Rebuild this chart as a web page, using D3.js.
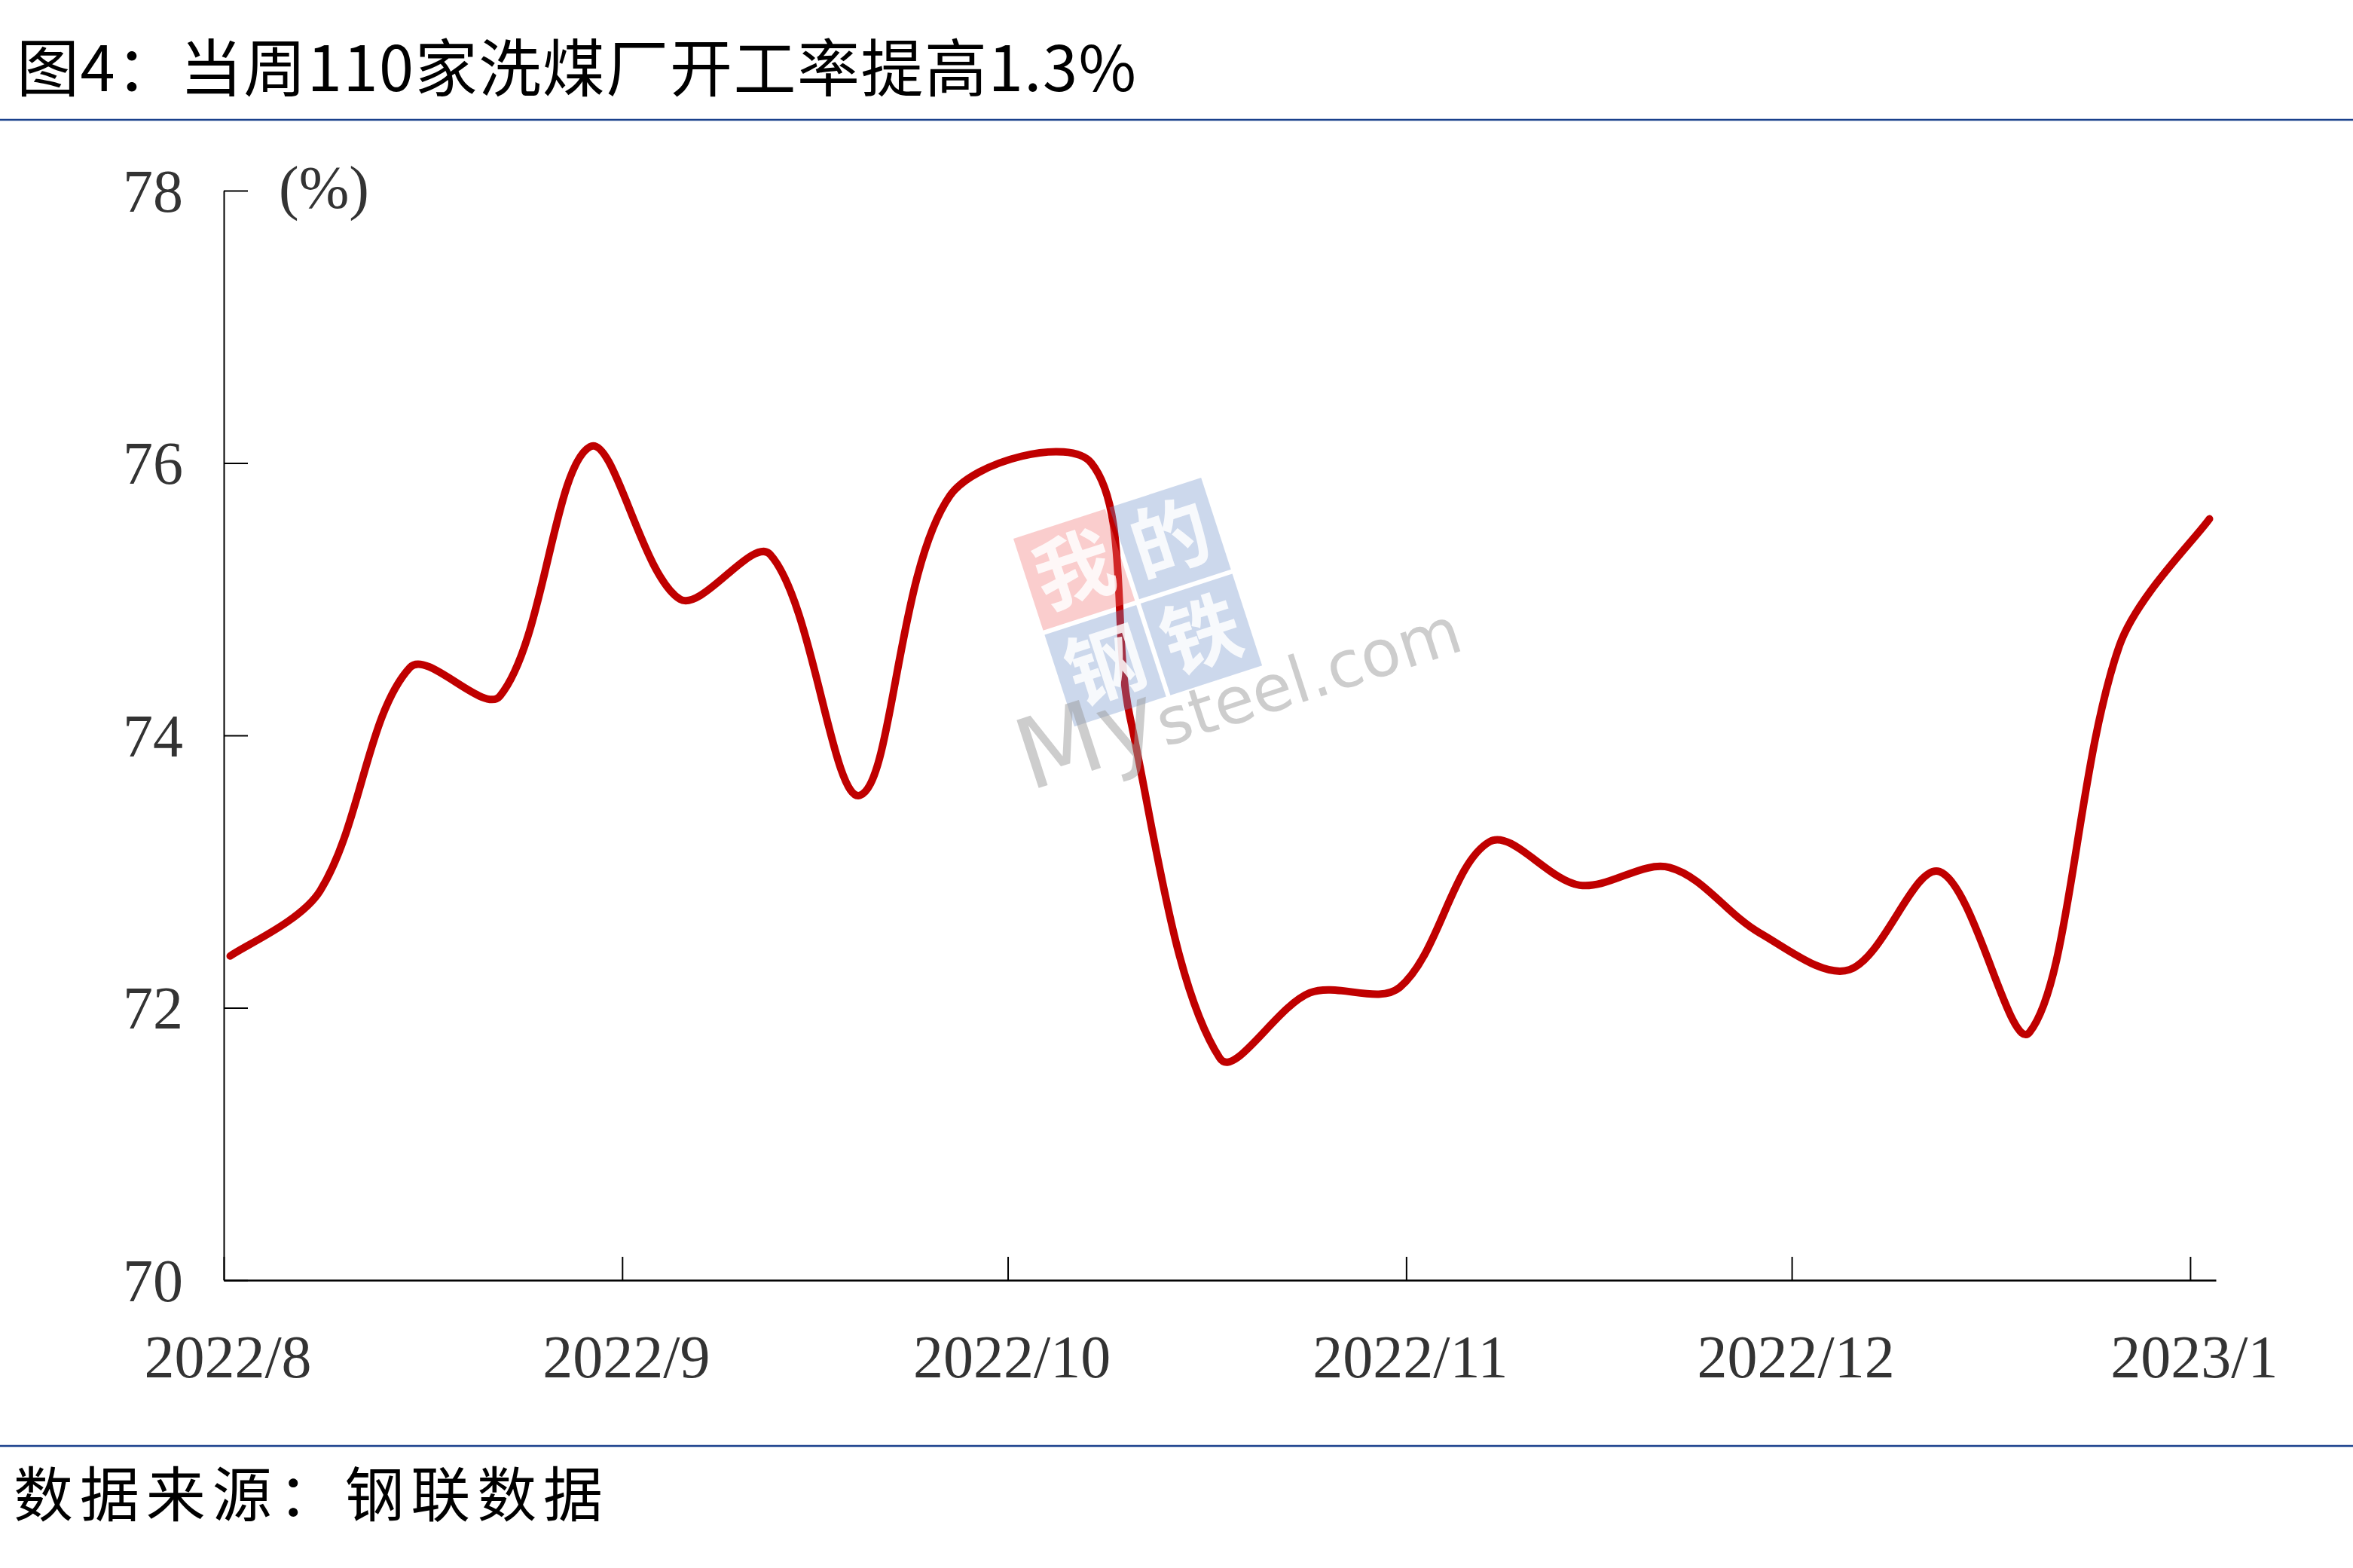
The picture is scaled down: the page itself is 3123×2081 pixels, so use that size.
<!DOCTYPE html>
<html>
<head>
<meta charset="utf-8">
<script src="https://cdn.jsdelivr.net/npm/d3@7"></script>
<style>
body{margin:0;background:#fff;}
</style>
</head>
<body>
<div id="chart-area"></div>
<script>
// weekly operating rate of 110 coal washing plants (%)
var dates=["2022-08-01","2022-08-08","2022-08-15","2022-08-22","2022-08-29",
	"2022-09-05","2022-09-12","2022-09-19","2022-09-26","2022-10-07",
	"2022-10-10","2022-10-17","2022-10-24","2022-10-31","2022-11-07",
	"2022-11-14","2022-11-21","2022-11-28","2022-12-05","2022-12-12",
	"2022-12-19","2022-12-26","2023-01-02"];
var rates=[72.38,72.86,74.50,74.29,76.12,
	75.00,75.33,73.56,75.76,76.00,
	74.14,71.63,72.11,72.15,73.22,
	72.90,73.03,72.55,72.28,73.00,
	71.82,74.66,75.59];
var yTicks=[70,72,74,76,78];
var monthTicks=["2022-08-01","2022-09-01","2022-10-01","2022-11-01","2022-12-01","2023-01-01"];
var titleText="图4：当周110家洗煤厂开工率提高1.3%";
var sourceText="数据来源：钢联数据";
var unitText="(%)";
var wmChars=["我","的","钢","铁"];

var W=3123, H=2081;
var cjk="'Noto Sans CJK SC', sans-serif";
var serif="'Times New Roman', 'Liberation Serif', serif";

// spreadsheet-style smoothing: tangent from the two neighbours,
// handle lengths split by the length of the adjacent chords
function SmoothCurve(context){ this._context=context; }
SmoothCurve.prototype={
	areaStart:function(){ this._line=0; },
	areaEnd:function(){ this._line=NaN; },
	lineStart:function(){ this._x=[]; this._y=[]; },
	point:function(x,y){ this._x.push(+x); this._y.push(+y); },
	lineEnd:function(){
		var xs=this._x, ys=this._y, n=xs.length, c=this._context;
		if(!n) return;
		c.moveTo(xs[0],ys[0]);
		if(n<3){ if(n==2) c.lineTo(xs[1],ys[1]); return; }
		var ox=[],oy=[],ix=[],iy=[];
		for(var i=0;i<n;i++){
			var a=Math.max(i-1,0), b=Math.min(i+1,n-1);
			var tx=xs[b]-xs[a], ty=ys[b]-ys[a];
			if(i==0||i==n-1){
				ox[i]=xs[i]+tx/6; oy[i]=ys[i]+ty/6;
				ix[i]=xs[i]-tx/6; iy[i]=ys[i]-ty/6;
				continue;
			}
			var dl=Math.hypot(xs[i]-xs[i-1],ys[i]-ys[i-1]);
			var dr=Math.hypot(xs[i+1]-xs[i],ys[i+1]-ys[i]);
			var fl=dl/(dl+dr)/3, fr=dr/(dl+dr)/3;
			ox[i]=xs[i]+tx*fr; oy[i]=ys[i]+ty*fr;
			ix[i]=xs[i]-tx*fl; iy[i]=ys[i]-ty*fl;
		}
		for(var j=0;j<n-1;j++){
			c.bezierCurveTo(ox[j],oy[j],ix[j+1],iy[j+1],xs[j+1],ys[j+1]);
		}
	}
};
function curveSmooth(context){ return new SmoothCurve(context); }

var parse=d3.timeParse("%Y-%m-%d");
var data=dates.map((d,i)=>{return {date:parse(d),rate:rates[i]};});

var svg=d3.select("#chart-area").append("svg")
	.attr("width",W)
	.attr("height",H);

svg.append("rect")
	.attr("width",W)
	.attr("height",H)
	.attr("fill","#fff");

// title + rules
svg.append("text")
	.attr("x",22)
	.attr("y",121)
	.attr("font-family",cjk)
	.attr("font-size",83)
	.attr("fill","#000")
	.attr("textLength",1486)
	.attr("lengthAdjust","spacing")
	.text(titleText);

svg.append("line")
	.attr("x1",0).attr("x2",W)
	.attr("y1",159).attr("y2",159)
	.attr("stroke","#1a408c")
	.attr("stroke-width",2.5);

svg.append("line")
	.attr("x1",0).attr("x2",W)
	.attr("y1",1919).attr("y2",1919)
	.attr("stroke","#1a408c")
	.attr("stroke-width",2.5);

svg.append("text")
	.attr("x",18)
	.attr("y",2013)
	.attr("font-family",cjk)
	.attr("font-size",79)
	.attr("fill","#000")
	.attr("textLength",782)
	.attr("lengthAdjust","spacing")
	.text(sourceText);

var x=d3.scaleTime()
	.domain([parse("2022-08-01"),parse("2023-01-03")])
	.range([297,2941]);

var y=d3.scaleLinear()
	.domain([70,78])
	.range([1699,253]);

var leftAxis=d3.axisLeft(y)
	.tickValues(yTicks)
	.tickSizeInner(-32)
	.tickSizeOuter(0)
	.tickPadding(54);

var bottomAxis=d3.axisBottom(x)
	.tickValues(monthTicks.map(parse))
	.tickFormat(d3.timeFormat("%Y/%-m"))
	.tickSizeInner(-31)
	.tickSizeOuter(0)
	.tickPadding(72);

var yg=svg.append("g")
	.attr("transform","translate(297,0)")
	.call(leftAxis)
	.attr("font-family",serif)
	.attr("font-size",80);
yg.select(".domain").attr("stroke","#000").attr("stroke-width",2);
yg.selectAll(".tick line").attr("stroke","#000").attr("stroke-width",2);
yg.selectAll(".tick text").attr("fill","#333").attr("dy","0.34em");

var xg=svg.append("g")
	.attr("transform","translate(0,1699)")
	.call(bottomAxis)
	.attr("font-family",serif)
	.attr("font-size",80);
xg.select(".domain").attr("stroke","#000").attr("stroke-width",2.5);
xg.selectAll(".tick line").attr("stroke","#000").attr("stroke-width",2);
xg.selectAll(".tick text").attr("fill","#333").attr("dx",5);

svg.append("text")
	.attr("x",370)
	.attr("y",276)
	.attr("font-family",serif)
	.attr("font-size",80)
	.attr("fill","#333")
	.text(unitText);

// the series, points sit in the middle of their day
var line=d3.line()
	.x((d)=>{return x(d3.timeHour.offset(d.date,12));})
	.y((d)=>{return y(d.rate);})
	.curve(curveSmooth);

svg.append("path")
	.datum(data)
	.attr("d",line)
	.attr("fill","none")
	.attr("stroke","#c00000")
	.attr("stroke-width",10)
	.attr("stroke-linecap","round")
	.attr("stroke-linejoin","round");

// Mysteel watermark
var wm=svg.append("g")
	.attr("transform","translate(1345,715) rotate(-18)");

var tileCol=["#f07070","#6c8fc9","#6c8fc9","#6c8fc9"];
wmChars.forEach((c,i)=>{
	var tx=(i%2)*134, ty=Math.floor(i/2)*134;
	wm.append("rect")
		.attr("x",tx).attr("y",ty)
		.attr("width",128).attr("height",128)
		.attr("fill",tileCol[i])
		.attr("opacity",0.35);
	wm.append("text")
		.attr("x",tx+64)
		.attr("y",ty+64)
		.attr("dy","0.36em")
		.attr("text-anchor","middle")
		.attr("font-family",cjk)
		.attr("font-weight","bold")
		.attr("font-size",104)
		.attr("fill","#fff")
		.attr("opacity",0.85)
		.text(c);
});

var wt=wm.append("text")
	.attr("x",-83)
	.attr("y",325)
	.attr("font-family","'DejaVu Sans', sans-serif")
	.attr("fill","#9c9c9c")
	.attr("opacity",0.5);
wt.append("tspan").attr("font-size",130).text("My");
wt.append("tspan").attr("font-size",86).text("steel.com");
</script>
</body>
</html>
